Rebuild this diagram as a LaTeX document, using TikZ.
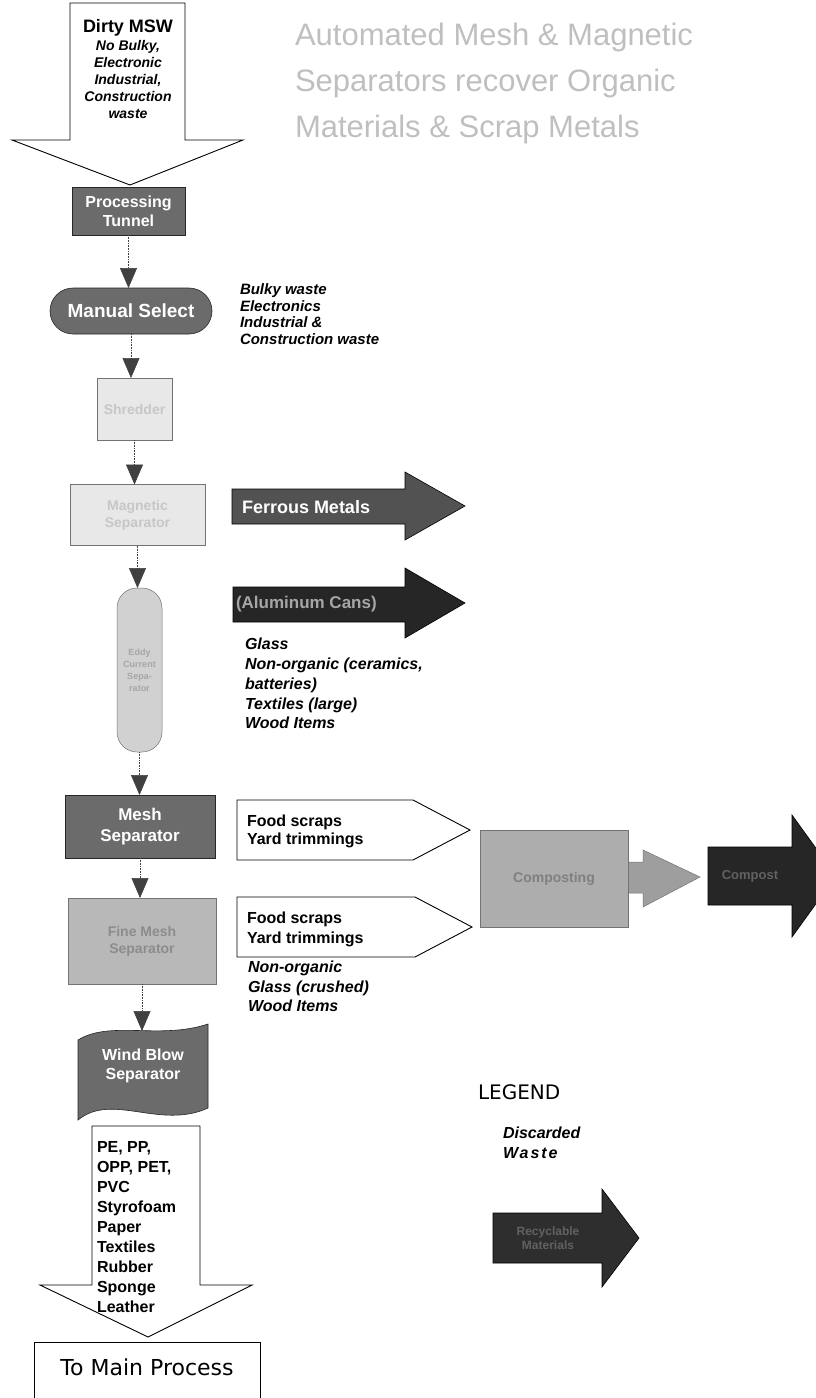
\documentclass[tikz,border=0pt]{standalone}
\usepackage{fontspec}
\setmainfont{Liberation Sans}
\newfontfamily\dvsans{DejaVu Sans}
\usetikzlibrary{shapes.misc,arrows.meta}
\begin{document}
\begin{tikzpicture}[x=1pt,y=-1pt,
  every node/.style={inner sep=0pt, outer sep=0pt},
  darkshape/.style={draw=black!85, line width=0.6pt, fill=black!58},
  lightshape/.style={draw=black!55, line width=0.5pt, fill=black!9},
  whiteshape/.style={draw=black, line width=0.9pt, fill=white},
  wlabel/.style={text=white, font=\bfseries\fontsize{16}{19}\selectfont, align=center},
  glabel/.style={text=black!22, font=\bfseries\fontsize{14}{17}\selectfont, align=center},
  flowconn/.style={densely dotted, black!75, line width=0.6pt, -{Triangle[width=17pt,length=20pt]}},
  bicenter/.style={anchor=base, font=\bfseries\itshape\fontsize{14}{17}\selectfont},
  bione/.style={anchor=base west, font=\bfseries\itshape\fontsize{15}{18}\selectfont},
  bitwo/.style={anchor=base west, font=\bfseries\itshape\fontsize{16}{19}\selectfont},
  btext/.style={anchor=base west, font=\bfseries\fontsize{16}{19}\selectfont},
  titletext/.style={anchor=base west, text=black!25, font=\fontsize{31}{36}\selectfont},
  fatarrow/.style={draw=black, line width=0.6pt}
]
\useasboundingbox (0,0) rectangle (816,1398);
\begin{scope}
\clip (0,0) rectangle (816,1398);

% ---------- top input arrow ----------
\draw[whiteshape] (70,3) -- (185,3) -- (185,140) -- (243,140) -- (130,185) -- (12,140) -- (70,140) -- cycle;
\node[anchor=base, font=\bfseries\fontsize{18}{21}\selectfont] (msw) at (128,32) {Dirty MSW};
\node[bicenter] (msw1) at (128,50) {No Bulky,};
\node[bicenter] (msw2) at (128,67) {Electronic};
\node[bicenter] (msw3) at (128,84) {Industrial,};
\node[bicenter] (msw4) at (128,101) {Construction};
\node[bicenter] (msw5) at (128,118) {waste};

% ---------- title ----------
\node[titletext] (title1) at (295,45) {Automated Mesh \& Magnetic};
\node[titletext] (title2) at (295,91) {Separators recover Organic};
\node[titletext] (title3) at (295,137) {Materials \& Scrap Metals};

% ---------- process chain ----------
\node[darkshape, wlabel, minimum width=113pt, minimum height=48pt] (tunnel) at (128.5,211) {Processing\\Tunnel};
\node[darkshape, wlabel, shape=rounded rectangle, minimum width=162pt, minimum height=46pt,
      font=\bfseries\fontsize{19}{22}\selectfont] (select) at (131,311) {Manual Select};
\node[lightshape, glabel, minimum width=75pt, minimum height=62pt] (shred) at (134.5,409) {Shredder};
\node[lightshape, glabel, minimum width=135pt, minimum height=61pt] (magsep) at (137.5,515) {Magnetic\\Separator};
\node[lightshape, glabel, fill=black!18, rounded corners=20pt, minimum width=45pt, minimum height=164pt,
      font=\bfseries\fontsize{9}{12}\selectfont, text=black!35] (eddy) at (139.5,670) {Eddy\\Current\\Sepa-\\rator};
\node[darkshape, wlabel, minimum width=150pt, minimum height=63pt,
      font=\bfseries\fontsize{17}{21}\selectfont] (mesh) at (140,826.5) {Mesh\\Separator};
\node[lightshape, glabel, fill=black!28, text=black!45, minimum width=148pt, minimum height=86pt] (finemesh) at (142,941) {Fine Mesh\\Separator};

% wave (air separator)
\path[darkshape] (78,1040) .. controls (110,1020) and (160,1040) .. (208,1024)
   -- (208,1108) .. controls (160,1130) and (112,1092) .. (78,1120) -- cycle;
\coordinate (wavetop) at (140,1031);
\node[wlabel] (wave) at (143,1066) {Wind Blow\\Separator};

% connectors
\draw[flowconn] (tunnel.south) -- (tunnel.south |- select.north);
\draw[flowconn] (select.south) -- (select.south |- shred.north);
\draw[flowconn] (shred.south) -- (shred.south |- magsep.north);
\draw[flowconn] (magsep.south) -- (magsep.south |- eddy.north);
\draw[flowconn] (eddy.south) -- (eddy.south |- mesh.north);
\draw[flowconn] (mesh.south) -- (mesh.south |- finemesh.north);
\draw[flowconn] (finemesh.south) -- (finemesh.south |- wavetop);

% ---------- discarded after manual select ----------
\node[bione] (bw1) at (240,294) {Bulky waste};
\node[bione] (bw2) at (240,311) {Electronics};
\node[bione] (bw3) at (240,327) {Industrial \&};
\node[bione] (bw4) at (240,344) {Construction waste};

% ---------- ferrous / aluminum arrows ----------
\path[fatarrow, fill=black!68] (232,489) -- (405,489) -- (405,472) -- (465,506) -- (405,540) -- (405,524) -- (232,524) -- cycle;
\node[wlabel, anchor=west, font=\bfseries\fontsize{18}{21}\selectfont] (ferrous) at (242,507) {Ferrous Metals};
\path[fatarrow, fill=black!85] (233,587) -- (405,587) -- (405,568) -- (465,603) -- (405,638) -- (405,622) -- (233,622) -- cycle;
\node[anchor=west, text=black!35, font=\bfseries\fontsize{17}{20}\selectfont] (alu) at (236,604) {(Aluminum Cans)};

\node[bitwo] (gl1) at (245,649) {Glass};
\node[bitwo] (gl2) at (245,669) {Non-organic (ceramics,};
\node[bitwo] (gl3) at (245,689) {batteries)};
\node[bitwo] (gl4) at (245,709) {Textiles (large)};
\node[bitwo] (gl5) at (245,728) {Wood Items};

% ---------- organic outputs ----------
\draw[whiteshape] (237,800) -- (413,800) -- (470,830) -- (413,860) -- (237,860) -- cycle;
\node[btext] (fs1) at (247,826) {Food scraps};
\node[btext] (yt1) at (247,844) {Yard trimmings};
\draw[whiteshape] (237,897) -- (415,897) -- (472,927) -- (415,957) -- (237,957) -- cycle;
\node[btext] (fs2) at (247,923) {Food scraps};
\node[btext] (yt2) at (247,943) {Yard trimmings};

\node[bitwo] (no1) at (248,972) {Non-organic};
\node[bitwo] (no2) at (248,992) {Glass (crushed)};
\node[bitwo] (no3) at (248,1011) {Wood Items};

% composting and product
\path[fill=black!38, draw=black!55, line width=0.5pt] (620,862) -- (643,862) -- (643,850) -- (700,877) -- (643,907) -- (643,893) -- (620,893) -- cycle;
\node[lightshape, fill=black!32, text=black!50, font=\bfseries\fontsize{14}{17}\selectfont, minimum width=148pt, minimum height=97pt] (compost) at (554,878.5) {Composting};
\path[fatarrow, fill=black!85] (708,847) -- (792,847) -- (792,815) -- (836,876) -- (792,937) -- (792,905) -- (708,905) -- cycle;
\node[text=black!62, font=\bfseries\fontsize{13}{16}\selectfont] (fert) at (750,876) {Compost};

% ---------- bottom output arrow ----------
\draw[whiteshape] (92,1126) -- (200,1126) -- (200,1285) -- (252,1285) -- (148,1337) -- (40,1285) -- (92,1285) -- cycle;
\node[btext] (pe1) at (97,1152) {PE, PP,};
\node[btext] (pe2) at (97,1172) {OPP, PET,};
\node[btext] (pe3) at (97,1192) {PVC};
\node[btext] (pe4) at (97,1212) {Styrofoam};
\node[btext] (pe5) at (97,1232) {Paper};
\node[btext] (pe6) at (97,1252) {Textiles};
\node[btext] (pe7) at (97,1272) {Rubber};
\node[btext] (pe8) at (97,1292) {Sponge};
\node[btext] (pe9) at (97,1312) {Leather};

\node[draw=black, line width=0.9pt, minimum width=226pt, minimum height=64pt] (mainbox) at (147,1374) {};
\node[font=\dvsans\fontsize{22}{26}\selectfont] (maintext) at (147,1367) {To Main Process};

% ---------- legend ----------
\node[anchor=base west, font=\dvsans\fontsize{20}{24}\selectfont] (legend) at (478,1099) {LEGEND};
\node[bitwo] (disc1) at (503,1138) {Discarded};
\node[bitwo] (disc2) at (503,1158) {\addfontfeature{LetterSpace=12}Waste};
\path[fatarrow, fill=black!82] (493,1213) -- (602,1213) -- (602,1189) -- (639,1238) -- (602,1287) -- (602,1263) -- (493,1263) -- cycle;
\node[text=black!62, align=center, font=\bfseries\fontsize{12}{14}\selectfont] (legarrow) at (548,1238) {Recyclable\\Materials};
\end{scope}
\end{tikzpicture}
\end{document}
